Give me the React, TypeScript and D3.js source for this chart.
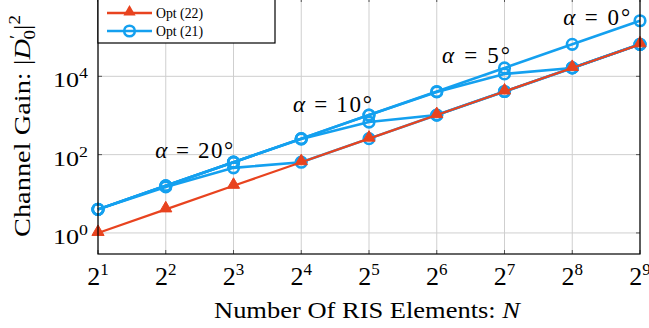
import * as d3 from "d3";
import React, { useEffect, useRef } from "react";

// number of RIS elements N (x axis, log2)
const elements = [2, 4, 8, 16, 32, 64, 128, 256, 512];
// channel gain |D'_0|^2
const opt22 = [1, 4, 16, 64, 256, 1024, 4096, 16384, 65536];
const opt21Alpha0 = [4, 16, 64, 256, 1024, 4096, 16384, 65536, 262144];
const opt21Alpha5 = [4, 16, 64, 256, 1024, 4000, 11500, 16384, 65536];
const opt21Alpha10 = [4, 16, 64, 250, 680, 1024, 4096, 16384, 65536];
const opt21Alpha20 = [4, 15, 46, 64, 256, 1024, 4096, 16384, 65536];
const xTickExponents = [1, 2, 3, 4, 5, 6, 7, 8, 9];
const yTickExponents = [0, 2, 4];
const angles = [20, 10, 5, 0];

const RED = "#e8431f";
const BLUE = "#14a0ef";
const FONT = "'Liberation Serif', 'DejaVu Serif', serif";

const App = () => {
  const svgRef = useRef<SVGSVGElement>(null);

  useEffect(() => {
    const svg = d3.select(svgRef.current);
    svg.selectAll("*").remove();

    const left = 98, right = 640, top = -2, bottom = 254;

    const x = d3.scaleLog().base(2).domain([2, 512]).range([left, right]);
    const y = d3.scaleLog().domain([0.29, 1e6]).range([bottom, top]);

    const g = svg.append("g").attr("font-family", FONT);

    // grid
    g.append("g")
      .selectAll("line")
      .data(xTickExponents)
      .enter()
      .append("line")
      .attr("x1", (d) => x(2 ** d))
      .attr("x2", (d) => x(2 ** d))
      .attr("y1", top)
      .attr("y2", bottom)
      .attr("stroke", "#cfcfcf")
      .attr("stroke-width", 1);
    g.append("g")
      .selectAll("line")
      .data(yTickExponents)
      .enter()
      .append("line")
      .attr("x1", left)
      .attr("x2", right)
      .attr("y1", (d) => y(10 ** d))
      .attr("y2", (d) => y(10 ** d))
      .attr("stroke", "#cfcfcf")
      .attr("stroke-width", 1);

    // inner tick marks
    const ticks = g.append("g").attr("stroke", "#555").attr("stroke-width", 1);
    xTickExponents.forEach((d) => {
      const px = x(2 ** d);
      ticks.append("line").attr("x1", px).attr("x2", px).attr("y1", bottom).attr("y2", bottom - 4);
      ticks.append("line").attr("x1", px).attr("x2", px).attr("y1", top).attr("y2", top + 4);
    });
    yTickExponents.forEach((d) => {
      const py = y(10 ** d);
      ticks.append("line").attr("x1", left).attr("x2", left + 4).attr("y1", py).attr("y2", py);
      ticks.append("line").attr("x1", right).attr("x2", right - 4).attr("y1", py).attr("y2", py);
    });

    // series
    const line = d3
      .line<number>()
      .x((_, i) => x(elements[i]))
      .y((d) => y(d));

    const blueSeries = [opt21Alpha20, opt21Alpha10, opt21Alpha5, opt21Alpha0];
    blueSeries.forEach((s) => {
      g.append("path")
        .attr("d", line(s))
        .attr("fill", "none")
        .attr("stroke", BLUE)
        .attr("stroke-width", 2.6);
      g.append("g")
        .selectAll("circle")
        .data(s)
        .enter()
        .append("circle")
        .attr("cx", (_, i) => x(elements[i]))
        .attr("cy", (d) => y(d))
        .attr("r", 5.3)
        .attr("fill", "none")
        .attr("stroke", BLUE)
        .attr("stroke-width", 2.6);
    });

    const tri = d3.symbol().type(d3.symbolTriangle).size(64);
    g.append("path")
      .attr("d", line(opt22))
      .attr("fill", "none")
      .attr("stroke", RED)
      .attr("stroke-width", 2.2);
    g.append("g")
      .selectAll("path")
      .data(opt22)
      .enter()
      .append("path")
      .attr("d", tri())
      .attr("transform", (d, i) => `translate(${x(elements[i])},${y(d) - 1})`)
      .attr("fill", RED)
      .attr("stroke", RED)
      .attr("stroke-width", 1);

    // axes box
    g.append("rect")
      .attr("x", left)
      .attr("y", top)
      .attr("width", right - left)
      .attr("height", bottom - top)
      .attr("fill", "none")
      .attr("stroke", "#000")
      .attr("stroke-width", 1.2);

    // x tick labels
    xTickExponents.forEach((d) => {
      const t = g
        .append("text")
        .attr("x", x(2 ** d))
        .attr("y", 285)
        .attr("text-anchor", "middle")
        .attr("font-size", 26)
        .attr("fill", "#000");
      t.append("tspan").text("2");
      t.append("tspan").attr("dy", -10).attr("font-size", 17).text(String(d));
    });

    // y tick labels
    yTickExponents.forEach((d) => {
      const t = g
        .append("text")
        .attr("x", 88)
        .attr("y", y(10 ** d) + 11)
        .attr("text-anchor", "end")
        .attr("font-size", 22)
        .attr("fill", "#000")
        .attr("textLength", 35)
        .attr("lengthAdjust", "spacingAndGlyphs");
      t.append("tspan").text("10");
      t.append("tspan").attr("dy", -9).attr("font-size", 15).text(String(d));
    });

    // axis titles
    const xl = g
      .append("text")
      .attr("x", 367)
      .attr("y", 318)
      .attr("text-anchor", "middle")
      .attr("font-size", 24)
      .attr("fill", "#000")
      .attr("textLength", 306)
      .attr("lengthAdjust", "spacingAndGlyphs");
    xl.append("tspan").text("Number Of RIS Elements: ");
    xl.append("tspan").attr("font-style", "italic").text("N");

    const yl = g
      .append("text")
      .attr("transform", `translate(30,126) rotate(-90)`)
      .attr("text-anchor", "middle")
      .attr("font-size", 24)
      .attr("fill", "#000")
      .attr("textLength", 222)
      .attr("lengthAdjust", "spacingAndGlyphs");
    yl.append("tspan").text("Channel Gain: |");
    yl.append("tspan").attr("font-style", "italic").text("D");
    yl.append("tspan").attr("dy", -9).attr("font-size", 16).text("′");
    yl.append("tspan").attr("dx", -4).attr("dy", 14).attr("font-size", 16).text("0");
    yl.append("tspan").attr("dy", -5).text("|");
    yl.append("tspan").attr("dy", -10).attr("font-size", 16).text("2");

    // angle annotations (placed in data coordinates)
    const annotationAt: Record<number, [number, number, number]> = {
      20: [2 ** 2.42, 10 ** 1.92, 78],
      10: [2 ** 4.46, 10 ** 3.09, 79],
      5: [2 ** 6.58, 10 ** 4.35, 68],
      0: [2 ** 8.36, 10 ** 5.32, 67],
    };
    angles.forEach((a) => {
      const [n, v, w] = annotationAt[a];
      const t = g
        .append("text")
        .attr("x", x(n))
        .attr("y", y(v))
        .attr("text-anchor", "middle")
        .attr("font-size", 23)
        .attr("fill", "#000")
        .attr("textLength", w)
        .attr("lengthAdjust", "spacing");
      t.append("tspan").attr("font-style", "italic").text("α");
      t.append("tspan").text(` = ${a}°`);
    });

    // legend
    const lg = g.append("g");
    lg.append("rect")
      .attr("x", left)
      .attr("y", -5)
      .attr("width", 177)
      .attr("height", 48)
      .attr("fill", "#fff")
      .attr("stroke", "#000")
      .attr("stroke-width", 1.2);
    const entries = [
      { label: "Opt (22)", color: RED, marker: "tri", yPos: 13 },
      { label: "Opt (21)", color: BLUE, marker: "circle", yPos: 31 },
    ];
    entries.forEach((e) => {
      lg.append("line")
        .attr("x1", 107)
        .attr("x2", 152)
        .attr("y1", e.yPos)
        .attr("y2", e.yPos)
        .attr("stroke", e.color)
        .attr("stroke-width", 2.4);
      if (e.marker === "tri") {
        lg.append("path")
          .attr("d", tri())
          .attr("transform", `translate(129.5,${e.yPos - 1})`)
          .attr("fill", e.color);
      } else {
        lg.append("circle")
          .attr("cx", 129.5)
          .attr("cy", e.yPos)
          .attr("r", 5.3)
          .attr("fill", "none")
          .attr("stroke", e.color)
          .attr("stroke-width", 2.6);
      }
      lg.append("text")
        .attr("x", 156)
        .attr("y", e.yPos + 5)
        .attr("font-size", 15)
        .attr("fill", "#000")
        .attr("textLength", 47)
        .attr("lengthAdjust", "spacingAndGlyphs")
        .text(e.label);
    });
  }, []);

  return (
    <svg
      ref={svgRef}
      width="649"
      height="328"
      style={{ position: "absolute", left: 0, top: 0, background: "#fff" }}
    ></svg>
  );
};

export default App;
